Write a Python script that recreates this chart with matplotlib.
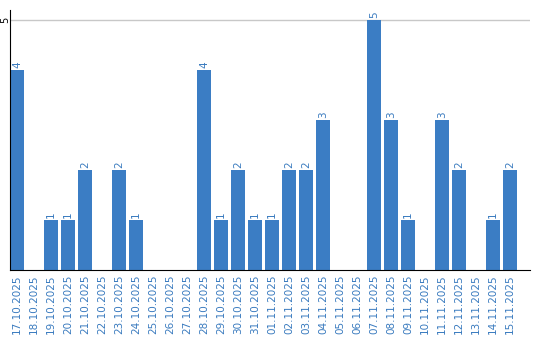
import numpy as np
import matplotlib.pyplot as plt

dates = ["17.10.2025", "18.10.2025", "19.10.2025", "20.10.2025", "21.10.2025",
         "22.10.2025", "23.10.2025", "24.10.2025", "25.10.2025", "26.10.2025",
         "27.10.2025", "28.10.2025", "29.10.2025", "30.10.2025", "31.10.2025",
         "01.11.2025", "02.11.2025", "03.11.2025", "04.11.2025", "05.11.2025",
         "06.11.2025", "07.11.2025", "08.11.2025", "09.11.2025", "10.11.2025",
         "11.11.2025", "12.11.2025", "13.11.2025", "14.11.2025", "15.11.2025"]
counts = [4, 0, 1, 1, 2, 0, 2, 1, 0, 0, 0, 4, 1, 2, 1,
          1, 2, 2, 3, 0, 0, 5, 3, 1, 0, 3, 2, 0, 1, 2]

bar_color = "#3b7dc4"
text_color = "#3a7bbf"

fig = plt.figure(figsize=(5.4, 3.4), dpi=100)
ax = fig.add_axes([10 / 540, 70 / 340, 520 / 540, 260 / 340])

x = np.arange(len(dates))
ax.bar(x, counts, width=14 / 17, color=bar_color, zorder=2)
for xi, c in zip(x, counts):
    if c > 0:
        ax.text(xi, c + 0.04, str(c), rotation=90, ha="center", va="bottom",
                fontsize=7.5, color=text_color)

ax.set_xlim(-7 / 17, 513 / 17)
ax.set_ylim(0, 5.2)
ax.set_xticks(x)
ax.set_xticklabels(dates, rotation=90, fontsize=7.5, color=text_color)
ax.set_yticks([5])
ax.set_yticklabels(["5"], rotation=90, fontsize=7, va="center")
ax.tick_params(length=0, pad=3)
ax.tick_params(axis="y", pad=0)
ax.yaxis.grid(True, color="#c8c8c8", linewidth=1, zorder=0)
ax.set_axisbelow(True)

for side in ["top", "right"]:
    ax.spines[side].set_visible(False)
ax.spines["left"].set_color("black")
ax.spines["bottom"].set_color("black")

fig.savefig("out.png", dpi=100)
